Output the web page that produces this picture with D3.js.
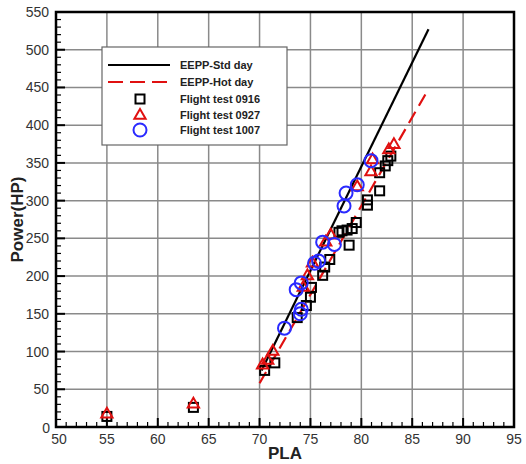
<!DOCTYPE html>
<html><head><meta charset="utf-8">
<script src="https://cdn.jsdelivr.net/npm/d3@7"></script>
<style>body{margin:0;background:#fff}</style>
</head><body>
<svg id="c" width="526" height="464"></svg>
<script>
const xTicks = [50,55,60,65,70,75,80,85,90,95];
const yTicks = [0,50,100,150,200,250,300,350,400,450,500,550];
const stdDay = [[70.2,75],[86.6,527]];
const hotDay = [[70.0,58],[86.6,448]];
const ft0916 = [[55,14],[63.5,26],[70.5,75],[71.5,85],[73.7,145],[74.6,161],[75.0,172],[75.1,185],[76.2,201],[76.4,212],[76.9,222],[77.8,258],[78.1,260],[78.6,261],[79.1,263],[78.8,241],[79.5,271],[80.6,294],[80.6,301],[81.8,313],[81.8,337],[82.35,346],[82.6,353],[82.9,359]];
const ft0927 = [[55,17],[63.5,30],[70.3,82],[70.8,88],[71.3,100],[74.3,185],[74.7,200],[75.2,217],[76.5,245],[77.0,254],[79.6,318],[80.95,338],[81.1,354],[82.7,367],[83.2,374]];
const ft1007 = [[72.45,131],[74.0,150],[74.1,156],[73.6,182],[74.1,191],[75.4,217],[75.8,220],[76.2,245],[77.35,242],[78.3,293],[78.5,310],[79.6,321],[80.95,353]];
const legendLabels = ["EEPP-Std day","EEPP-Hot day","Flight test 0916","Flight test 0927","Flight test 1007"];

const svg = d3.select("#c");
const L=56,R=514,T=12,B=427;
const x = d3.scaleLinear().domain([50,95]).range([L,R]);
const y = d3.scaleLinear().domain([0,550]).range([B,T]);

// grid
const g = svg.append("g");
g.selectAll(".gx").data(xTicks.slice(1,-1)).join("line")
  .attr("x1",d=>x(d)).attr("x2",d=>x(d)).attr("y1",T).attr("y2",B)
  .attr("stroke","#8a8a8a").attr("stroke-width",1.5);
g.selectAll(".gy").data(yTicks.slice(1,-1)).join("line")
  .attr("y1",d=>y(d)).attr("y2",d=>y(d)).attr("x1",L).attr("x2",R)
  .attr("stroke","#8a8a8a").attr("stroke-width",1.5);

// minor ticks
const xMinor = d3.range(50,95.01,1).filter(v=>v%5!==0);
const yMinor = d3.range(0,550.01,10).filter(v=>v%50!==0);
svg.selectAll(".xm").data(xMinor).join("line")
  .attr("x1",d=>x(d)).attr("x2",d=>x(d)).attr("y1",B).attr("y2",B-5)
  .attr("stroke","#000").attr("stroke-width",1.2);
svg.selectAll(".ym").data(yMinor).join("line")
  .attr("y1",d=>y(d)).attr("y2",d=>y(d)).attr("x1",L).attr("x2",L+5)
  .attr("stroke","#000").attr("stroke-width",1.2);
svg.selectAll(".xM").data(xTicks).join("line")
  .attr("x1",d=>x(d)).attr("x2",d=>x(d)).attr("y1",B).attr("y2",B-9)
  .attr("stroke","#000").attr("stroke-width",2);
svg.selectAll(".yM").data(yTicks).join("line")
  .attr("y1",d=>y(d)).attr("y2",d=>y(d)).attr("x1",L).attr("x2",L+9)
  .attr("stroke","#000").attr("stroke-width",2);

// tick labels
const lblFont = "Arial, 'Liberation Sans', sans-serif";
svg.selectAll(".xl").data(xTicks).join("text")
  .attr("x",d=>x(d)+(d===50?3:0)).attr("y",444).attr("text-anchor","middle")
  .attr("font-family",lblFont).attr("font-size",14).attr("fill","#333").text(d=>d);
svg.selectAll(".yl").data(yTicks).join("text")
  .attr("x",d=>d===0?50:49).attr("y",d=>y(d)+5+(d===0?1:0)).attr("text-anchor","end")
  .attr("font-family",lblFont).attr("font-size",14).attr("fill","#333").text(d=>d);

svg.append("text").attr("x",(L+R)/2).attr("y",459).attr("text-anchor","middle")
  .attr("font-family",lblFont).attr("font-weight","bold").attr("font-size",17).attr("fill","#222").text("PLA");
svg.append("text").attr("transform",`translate(23,${(T+B)/2}) rotate(-90)`).attr("text-anchor","middle")
  .attr("font-family",lblFont).attr("font-weight","bold").attr("font-size",17).attr("fill","#222").text("Power(HP)");

// lines
const line = d3.line().x(d=>x(d[0])).y(d=>y(d[1]));
svg.append("path").attr("d",line(stdDay)).attr("fill","none").attr("stroke","#000").attr("stroke-width",2.2);
svg.append("path").attr("d",line(hotDay)).attr("fill","none").attr("stroke","#e01010").attr("stroke-width",2.2).attr("stroke-dasharray","13,7");

// markers
const sq = 9;
svg.selectAll(".s").data(ft0916).join("rect")
  .attr("x",d=>x(d[0])-sq/2).attr("y",d=>y(d[1])-sq/2).attr("width",sq).attr("height",sq)
  .attr("fill","none").attr("stroke","#000").attr("stroke-width",2);
const tri = d3.symbol().type(d3.symbolTriangle).size(55);
svg.selectAll(".t").data(ft0927).join("path")
  .attr("d",tri).attr("transform",d=>`translate(${x(d[0])},${y(d[1])})`)
  .attr("fill","none").attr("stroke","#e01010").attr("stroke-width",2);
svg.selectAll(".o").data(ft1007).join("circle")
  .attr("cx",d=>x(d[0])).attr("cy",d=>y(d[1])).attr("r",6.5)
  .attr("fill","none").attr("stroke","#2a2aff").attr("stroke-width",2);

// frame
svg.append("rect").attr("x",L).attr("y",T).attr("width",R-L).attr("height",B-T)
  .attr("fill","none").attr("stroke","#000").attr("stroke-width",2.5);

// legend
const lg = svg.append("g");
lg.append("rect").attr("x",102).attr("y",47).attr("width",185).attr("height",98)
  .attr("fill","#fff").attr("stroke","#666").attr("stroke-width",1.2);
const rows = [65,82,99,114.5,130];
lg.append("line").attr("x1",108).attr("x2",170).attr("y1",rows[0]).attr("y2",rows[0]).attr("stroke","#000").attr("stroke-width",2.2);
lg.append("line").attr("x1",108).attr("x2",170).attr("y1",rows[1]).attr("y2",rows[1]).attr("stroke","#e01010").attr("stroke-width",2.2).attr("stroke-dasharray","15,7");
lg.append("rect").attr("x",140-4.5).attr("y",rows[2]-4.5).attr("width",9).attr("height",9).attr("fill","none").attr("stroke","#000").attr("stroke-width",2);
lg.append("path").attr("d",tri).attr("transform",`translate(140,${rows[3]+1})`).attr("fill","none").attr("stroke","#e01010").attr("stroke-width",2);
lg.append("circle").attr("cx",140).attr("cy",rows[4]).attr("r",6.5).attr("fill","none").attr("stroke","#2a2aff").attr("stroke-width",2);
lg.selectAll(".lt").data(legendLabels).join("text")
  .attr("x",180).attr("y",(d,i)=>rows[i]+4).attr("font-family",lblFont).attr("font-weight","bold")
  .attr("font-size",11).attr("fill","#222").text(d=>d);
</script>
</body></html>
